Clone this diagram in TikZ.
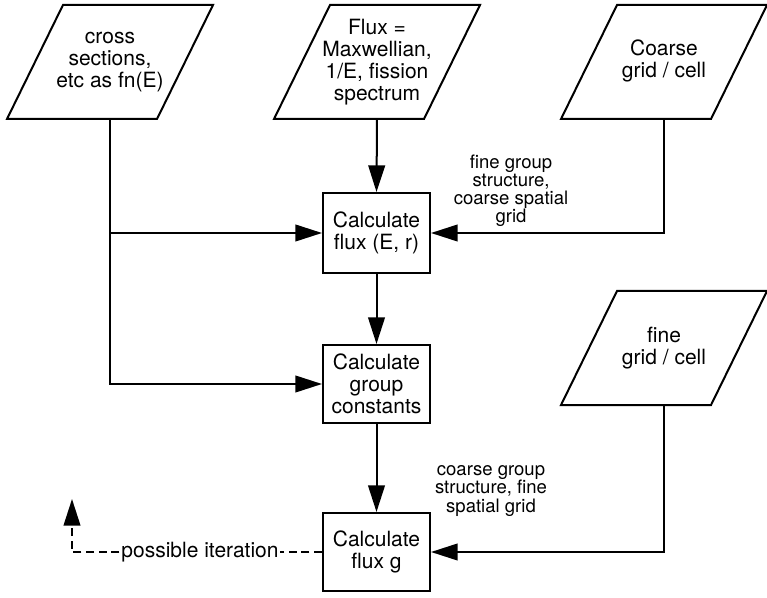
\documentclass[tikz,border=0pt]{standalone}
\usepackage{fontspec}
\setmainfont{TeX Gyre Heros}
\usetikzlibrary{arrows.meta,calc}
\begin{document}
\begin{tikzpicture}[x=0.75pt,y=-0.75pt,
  line width=1.5pt,
  every node/.style={font=\fontsize{15.75}{16.5}\selectfont, align=center, inner sep=0pt},
  datain/.style={minimum width=1pt, minimum height=84pt},
  procbox/.style={draw, minimum width=80.25pt, line width=1.5pt},
  lbl/.style={font=\fontsize{13.9}{13.6}\selectfont},
  arr/.style={-{Triangle[length=20pt,width=12.5pt]}},
  iter/.style={dash pattern=on 6pt off 3.5pt, -{Triangle[length=20pt,width=12.5pt]}}]
\useasboundingbox (0,0) rectangle (767,598);

% input parallelograms
\node[datain] (cs) at (110,62) {cross\\sections,\\etc as fn(E)};
\node[datain] (fl) at (377,62) {Flux =\\Maxwellian,\\1/E, fission\\spectrum};
\node[datain] (cg) at (664,62) {\raisebox{-6pt}{\begin{tabular}{@{}c@{}}Coarse\\grid / cell\end{tabular}}};
\node[datain] (fg) at (664,348) {fine\\grid / cell};
\foreach \n in {cs,fl,cg,fg}
  \draw[line join=miter] ($(\n.south)+(-103,0)$) -- ($(\n.south)+(47,0)$)
     -- ($(\n.north)+(103,0)$) -- ($(\n.north)+(-47,0)$) -- cycle;

% process boxes
\node[procbox, minimum height=60pt] (b1) at (376.5,233) {Calculate\\flux (E, r)};
\node[procbox, minimum height=58.5pt] (b2) at (376.5,384) {Calculate\\group\\constants};
\node[procbox, minimum height=58.5pt] (b3) at (376.5,552) {Calculate\\flux g};

% connectors
\draw[arr] (fl.south) -- (b1.north);
\draw[arr] (cs.south) |- (b2.west);
\draw[arr] (cs.south |- b1.west) -- (b1.west);
\draw[arr] (cg.south) |- (b1.east);
\draw[arr] (b1.south) -- (b2.north);
\draw[arr] (b2.south) -- (b3.north);
\draw[arr] (fg.south) |- (b3.east);

% labels
\node[lbl] (l1) at (511,191) {fine group\\structure,\\coarse spatial\\grid};
\node[lbl] (l2) at (491,491) {coarse group\\structure, fine\\spatial grid};

% iteration
\coordinate (it) at (72,499);
\draw[iter] (b3.west) -| (it);
\node[fill=white, inner xsep=1pt, inner ysep=2pt] (pi) at (200,552) {possible iteration};
\end{tikzpicture}
\end{document}
